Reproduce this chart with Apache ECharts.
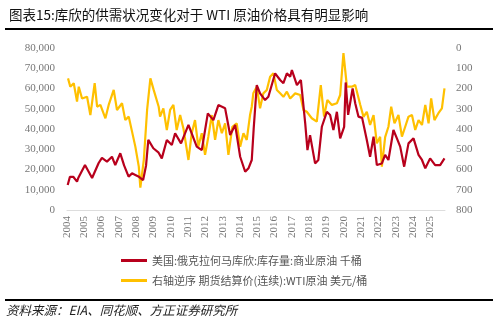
<!DOCTYPE html>
<html>
<head>
<meta charset="utf-8">
<script src="https://cdn.jsdelivr.net/npm/echarts@6/dist/echarts.min.js"></script>
<style>
  html, body { margin: 0; padding: 0; background: #fff; }
  #chart { width: 497px; height: 325px; }
</style>
</head>
<body>
<div id="chart"></div>
<script>
// 库欣库存（千桶），横轴为年份（小数）
const stockYears = [2004.04, 2004.17, 2004.36, 2004.58, 2004.65, 2005.04, 2005.45, 2005.83, 2006.02, 2006.31,
  2006.60, 2006.79, 2007.08, 2007.30, 2007.56, 2007.76, 2007.95, 2008.16, 2008.40, 2008.57,
  2008.70, 2008.99, 2009.28, 2009.48, 2009.77, 2010.06, 2010.25, 2010.59, 2011.02, 2011.50,
  2011.79, 2012.14, 2012.46, 2012.75, 2013.14, 2013.43, 2013.72, 2014.01, 2014.30, 2014.49,
  2014.68, 2014.79, 2014.97, 2015.16, 2015.45, 2015.64, 2016.03, 2016.32, 2016.51, 2016.71,
  2016.90, 2017.00, 2017.29, 2017.52, 2017.77, 2017.90, 2018.05, 2018.34, 2018.53, 2018.73,
  2019.02, 2019.21, 2019.40, 2019.60, 2019.79, 2020.02, 2020.11, 2020.25, 2020.51, 2020.66,
  2020.85, 2021.06, 2021.33, 2021.52, 2021.72, 2021.91, 2022.20, 2022.39, 2022.58, 2022.87,
  2023.07, 2023.26, 2023.49, 2023.74, 2024.03, 2024.32, 2024.52, 2024.71, 2024.99, 2025.28,
  2025.57, 2025.82];
const stockValues = [12350, 16400, 16400, 14000, 15800, 22200, 15800, 23200, 25700, 23900,
  26300, 22200, 28000, 22000, 16500, 18100, 17300, 16400, 14800, 22000,
  34600, 30500, 28500, 25500, 34600, 32100, 37900, 32900, 42000, 31300,
  29600, 47700, 44400, 51800, 50200, 37000, 42000, 26300, 18900, 20600,
  24700, 40000, 61700, 57600, 54300, 55900, 67500, 64200, 62600, 67500,
  65800, 69100, 61700, 64200, 42800, 29600, 37000, 23000, 24700, 41100,
  48500, 46900, 39500, 48500, 35400, 41100, 63000, 47000, 60000, 52700,
  46100, 45500, 34600, 26300, 36200, 22200, 23000, 27200, 24700, 39500,
  35400, 31300, 21400, 32900, 35400, 27200, 24700, 20600, 25500, 22200,
  22200, 25500];

// WTI（右轴逆序）
const wtiYears = [2004.06, 2004.19, 2004.39, 2004.58, 2004.68, 2004.87, 2005.16, 2005.35, 2005.60, 2005.74,
  2005.93, 2006.22, 2006.41, 2006.70, 2006.89, 2007.18, 2007.37, 2007.57, 2007.76, 2007.95,
  2008.15, 2008.24, 2008.44, 2008.63, 2008.82, 2009.01, 2009.30, 2009.38, 2009.57, 2009.77,
  2009.96, 2010.15, 2010.34, 2010.54, 2010.73, 2011.02, 2011.21, 2011.40, 2011.59, 2011.79,
  2011.98, 2012.17, 2012.37, 2012.56, 2012.75, 2012.95, 2013.14, 2013.33, 2013.56, 2013.81,
  2014.01, 2014.20, 2014.39, 2014.58, 2014.68, 2014.77, 2014.97, 2015.16, 2015.35, 2015.55,
  2015.74, 2015.93, 2016.13, 2016.32, 2016.51, 2016.71, 2016.90, 2017.19, 2017.48, 2017.67,
  2017.86, 2018.15, 2018.44, 2018.67, 2018.86, 2019.05, 2019.31, 2019.60, 2019.79, 2019.98,
  2020.18, 2020.47, 2020.66, 2020.95, 2021.14, 2021.33, 2021.52, 2021.72, 2021.91, 2022.10,
  2022.20, 2022.39, 2022.58, 2022.74, 2022.93, 2023.16, 2023.36, 2023.55, 2023.74, 2023.94,
  2024.13, 2024.32, 2024.52, 2024.71, 2024.90, 2025.05, 2025.24, 2025.47, 2025.67, 2025.82];
const wtiValues = [150, 191, 174, 265, 191, 249, 241, 331, 174, 290,
  281, 347, 281, 207, 306, 273, 356, 339, 413, 487,
  586, 690, 553, 306, 150, 207, 290, 339, 298, 405,
  306, 281, 405, 331, 397, 553, 421, 356, 487, 421,
  528, 438, 331, 454, 356, 421, 372, 528, 389, 372,
  487, 421, 454, 331, 290, 224, 191, 298, 224, 207,
  142, 125, 207, 224, 241, 216, 249, 224, 232, 306,
  315, 347, 364, 183, 339, 257, 281, 273, 232, 25,
  191, 191, 183, 280, 340, 315, 380, 331, 471, 438,
  586, 440, 389, 290, 372, 331, 438, 389, 339, 331,
  405, 356, 380, 281, 372, 249, 356, 322, 298, 199];

const leftTicks = [0, 80000, 10000];   // min, max, interval
const rightTicks = [0, 800, 100];

const stockName = '美国:俄克拉何马库欣:库存量:商业原油 千桶';
const wtiName = '右轴逆序 期货结算价(连续):WTI原油 美元/桶';

const chart = echarts.init(document.getElementById('chart'));
const zip = (xs, ys) => xs.map((x, i) => [x, ys[i]]);
const axisFont = { color: '#777', fontSize: 11, fontFamily: 'Liberation Serif' };

chart.setOption({
  animation: false,
  backgroundColor: '#fff',
  title: {
    text: '图表15:库欣的供需状况变化对于 WTI 原油价格具有明显影响',
    left: 4, top: 3,
    textStyle: { fontSize: 13.5, fontWeight: 'normal', color: '#111', fontFamily: 'Noto Sans CJK SC' }
  },
  graphic: [
    { type: 'rect', shape: { x: 5, y: 28, width: 488, height: 2 }, style: { fill: '#000' } },
    { type: 'rect', shape: { x: 5, y: 299, width: 488, height: 2 }, style: { fill: '#000' } },
    { type: 'text', left: 6, top: 304,
      style: { text: '资料来源：EIA、同花顺、方正证券研究所', fontSize: 12.5, fontStyle: 'italic',
        fill: '#222', fontFamily: 'Noto Sans CJK SC' } }
  ],
  legend: {
    data: [stockName, wtiName],
    orient: 'vertical', left: 116, top: 250, itemGap: 9,
    itemWidth: 26, itemHeight: 3, icon: 'rect',
    textStyle: { fontSize: 11, color: '#555', fontFamily: 'Noto Sans CJK SC' }
  },
  grid: { left: 67, right: 52, top: 48, bottom: 115 },
  xAxis: {
    type: 'value', min: 2004, max: 2025.85, interval: 1,
    splitLine: { show: false },
    axisLine: { lineStyle: { color: '#ddd' } },
    axisTick: { show: false },
    axisLabel: Object.assign({ rotate: 90, margin: 6,
      formatter: v => (v % 1 === 0 ? String(v) : '') }, axisFont)
  },
  yAxis: [
    {
      type: 'value', min: leftTicks[0], max: leftTicks[1], interval: leftTicks[2],
      splitLine: { show: false }, axisLine: { show: false }, axisTick: { show: false },
      axisLabel: Object.assign({ margin: 12, formatter: v => v.toLocaleString('en-US') }, axisFont)
    },
    {
      type: 'value', inverse: true, min: rightTicks[0], max: rightTicks[1], interval: rightTicks[2],
      splitLine: { show: false }, axisLine: { show: false }, axisTick: { show: false },
      axisLabel: Object.assign({ margin: 11 }, axisFont)
    }
  ],
  series: [
    {
      name: wtiName,
      type: 'line', yAxisIndex: 1, showSymbol: false,
      data: zip(wtiYears, wtiValues),
      lineStyle: { color: '#FFC000', width: 2.2 }, itemStyle: { color: '#FFC000' }
    },
    {
      name: stockName,
      type: 'line', yAxisIndex: 0, showSymbol: false,
      data: zip(stockYears, stockValues),
      lineStyle: { color: '#B8001C', width: 2.2 }, itemStyle: { color: '#B8001C' }
    }
  ]
});
</script>
</body>
</html>
